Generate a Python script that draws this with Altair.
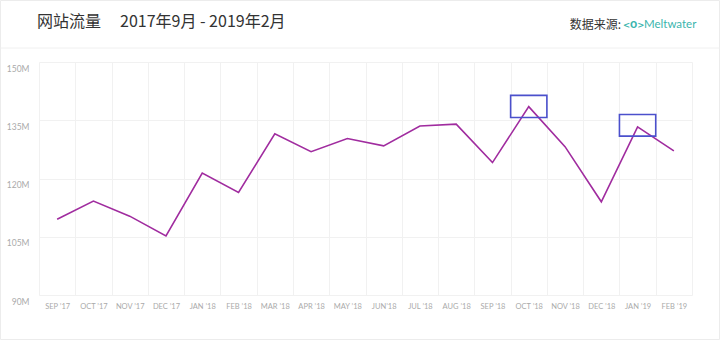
import altair as alt
import pandas as pd

months = ["SEP ’17", "OCT ’17", "NOV ’17", "DEC ’17", "JAN ’18", "FEB ’18",
          "MAR ’18", "APR ’18", "MAY ’18", "JUN’18", "JUL ’18", "AUG ’18",
          "SEP ’18", "OCT ’18", "NOV ’18", "DEC ’18", "JAN ’19", "FEB ’19"]
traffic = [109.5, 114.2, 110.3, 105.2, 121.4, 116.4,
           131.5, 126.9, 130.3, 128.4, 133.5, 134.0,
           124.1, 138.5, 128.2, 114.0, 133.3, 127.1]
box_months = ["OCT ’18", "JAN ’19"]
box_low = [135.7, 130.9]
box_high = [141.4, 136.5]
y_ticks = [90, 105, 120, 135, 150]

title_main = "网站流量"
title_range = "2017年9月 - 2019年2月"
source_label = "数据来源:"
source_name = "Meltwater"

df = pd.DataFrame({"month": months, "value": traffic})
boxes = pd.DataFrame({"month": box_months, "low": box_low, "high": box_high})

xscale = alt.Scale(type="band", domain=months, paddingInner=0, paddingOuter=0)
yscale = alt.Scale(domain=[90, 150], nice=False, zero=False)

line = alt.Chart(df).mark_line(color="#a02c9f", strokeWidth=1.6).encode(
    x=alt.X("month:N", scale=xscale, sort=months, bandPosition=0.5,
            axis=alt.Axis(title=None, grid=True, tickBand="extent", gridColor="#f1f1f1",
                          domain=False, ticks=False, labelAngle=0, labelPadding=7,
                          labelFontSize=7.5, labelColor="#aaaaaa", labelFont="Lato")),
    y=alt.Y("value:Q", scale=yscale,
            axis=alt.Axis(title=None, values=y_ticks, labelExpr="datum.value + 'M'",
                          grid=True, gridColor="#f1f1f1", domain=False, ticks=False,
                          labelPadding=10, labelOffset=6, labelFontSize=8.5,
                          labelColor="#aaaaaa", labelFont="Lato")),
)

rects = alt.Chart(boxes).mark_rect(fill=None, stroke="#4b50cc", strokeWidth=1.6).encode(
    x=alt.X("month:N", scale=xscale, sort=months),
    y=alt.Y("high:Q", scale=yscale),
    y2="low:Q",
)

one = pd.DataFrame({"k": [0]})

frame = alt.Chart(one).mark_rect(fill=None, stroke="#ececec", strokeWidth=1).encode(
    x=alt.value(-38.5), x2=alt.value(680.5), y=alt.value(-61.5), y2=alt.value(277.5))
sep = alt.Chart(one).mark_rule(color="#f0f0f0", strokeWidth=1).encode(
    x=alt.value(-38.5), x2=alt.value(680.5), y=alt.value(-14))

t1 = alt.Chart(one).mark_text(align="left", baseline="middle", fontSize=16,
                              font="Noto Sans CJK SC", color="#333333").encode(
    x=alt.value(-2), y=alt.value(-40), text=alt.value(title_main))
t2 = alt.Chart(one).mark_text(align="left", baseline="middle", fontSize=16,
                              font="Noto Sans CJK SC", color="#333333").encode(
    x=alt.value(81), y=alt.value(-40), text=alt.value(title_range))
s1 = alt.Chart(one).mark_text(align="right", baseline="middle", fontSize=12,
                              font="Noto Sans CJK SC", color="#333333").encode(
    x=alt.value(582), y=alt.value(-37), text=alt.value(source_label))
s2 = alt.Chart(one).mark_text(align="left", baseline="middle", fontSize=8.5, fontWeight="bold",
                              font="DejaVu Sans", color="#3ab5ad").encode(
    x=alt.value(584), y=alt.value(-37), text=alt.value("<O>"))
s3 = alt.Chart(one).mark_text(align="left", baseline="middle", fontSize=11.5,
                              font="Lato", color="#3ab5ad").encode(
    x=alt.value(605), y=alt.value(-37), text=alt.value(source_name))

chart = alt.layer(line, rects, frame, sep, t1, t2, s1, s2, s3).properties(
    width=653, height=233,
    autosize=alt.AutoSizeParams(type="none"),
    padding={"left": 39, "top": 62, "right": 28, "bottom": 45},
    background="white",
).configure_view(stroke=None)

chart.save("out.html", embed_options={"renderer": "svg", "actions": False})
